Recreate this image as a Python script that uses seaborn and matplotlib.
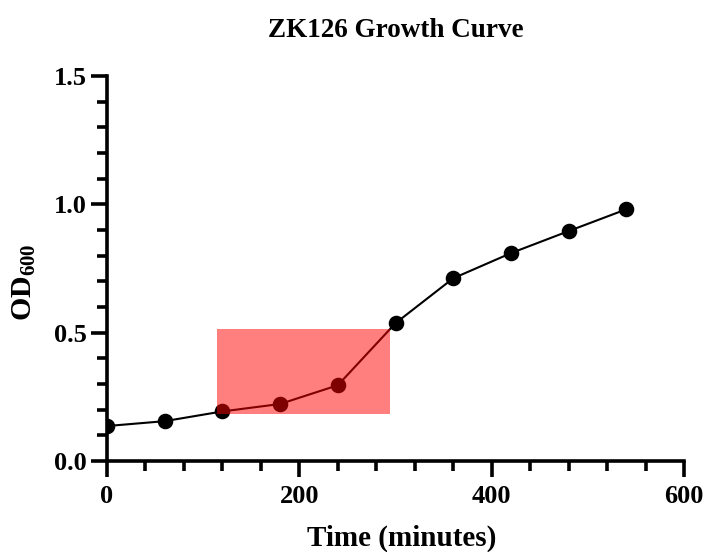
import matplotlib
matplotlib.use("Agg")
import matplotlib.pyplot as plt
from matplotlib.patches import Rectangle
from matplotlib.ticker import MultipleLocator
import seaborn as sns
import pandas as pd

# Growth measurements
time_min = [0, 60, 120, 180, 240, 300, 360, 420, 480, 540]
od600 = [0.136, 0.155, 0.193, 0.222, 0.295, 0.537, 0.712, 0.810, 0.896, 0.981]

# Highlighted window (time range, OD range)
highlight_time = [114, 294]
highlight_od = [0.184, 0.515]

x_ticks = [0, 200, 400, 600]
y_ticks = [0.0, 0.5, 1.0, 1.5]

sns.set_style("ticks")
plt.rcParams["font.family"] = ["Liberation Serif", "DejaVu Serif"]
plt.rcParams["font.weight"] = "bold"
plt.rcParams["text.color"] = "black"
plt.rcParams["axes.labelcolor"] = "black"
plt.rcParams["xtick.color"] = "black"
plt.rcParams["ytick.color"] = "black"
plt.rcParams["mathtext.fontset"] = "custom"
plt.rcParams["mathtext.rm"] = "Liberation Serif:bold"
plt.rcParams["mathtext.default"] = "rm"

df = pd.DataFrame({"Time": time_min, "OD": od600})

fig = plt.figure(figsize=(7.04, 5.52), dpi=100)
ax = fig.add_axes([0.152, 0.165, 0.8196, 0.697])

sns.lineplot(data=df, x="Time", y="OD", ax=ax, color="black", linewidth=1.5,
             marker="o", markersize=10.2, markeredgewidth=1,
             markeredgecolor="black", zorder=3)

ax.add_patch(Rectangle((highlight_time[0], highlight_od[0]),
                       highlight_time[1] - highlight_time[0],
                       highlight_od[1] - highlight_od[0],
                       facecolor="red", alpha=0.5, edgecolor="none", zorder=4))

ax.set_xlim(0, 600)
ax.set_ylim(0, 1.5)
ax.set_xticks(x_ticks)
ax.set_yticks(y_ticks)
ax.set_xticklabels([str(v) for v in x_ticks])
ax.set_yticklabels([f"{v:.1f}" for v in y_ticks])
ax.xaxis.set_minor_locator(MultipleLocator(40))
ax.yaxis.set_minor_locator(MultipleLocator(0.1))

for side in ["top", "right"]:
    ax.spines[side].set_visible(False)
for side in ["left", "bottom"]:
    ax.spines[side].set_linewidth(2.6)
    ax.spines[side].set_color("black")
    ax.spines[side].set_capstyle("projecting")

ax.tick_params(which="major", length=11.5, width=2.6, labelsize=19)
ax.tick_params(which="minor", length=7, width=2.6)
ax.tick_params(axis="x", which="major", pad=6)
ax.tick_params(axis="y", which="major", pad=3)
for lbl in ax.get_xticklabels() + ax.get_yticklabels():
    lbl.set_fontweight("bold")

ax.set_xlabel("Time (minutes)", fontsize=21, fontweight="bold")
ax.xaxis.set_label_coords(0.51, -0.166)
ax.set_ylabel("OD$_{600}$", fontsize=21.5, fontweight="bold")
ax.yaxis.set_label_coords(-0.12, 0.465)

fig.text(0.5618, 1 - 37 / 552, "ZK126 Growth Curve", fontsize=19.5,
         fontweight="bold", ha="center", va="baseline")

fig.savefig("out.png", dpi=100)
